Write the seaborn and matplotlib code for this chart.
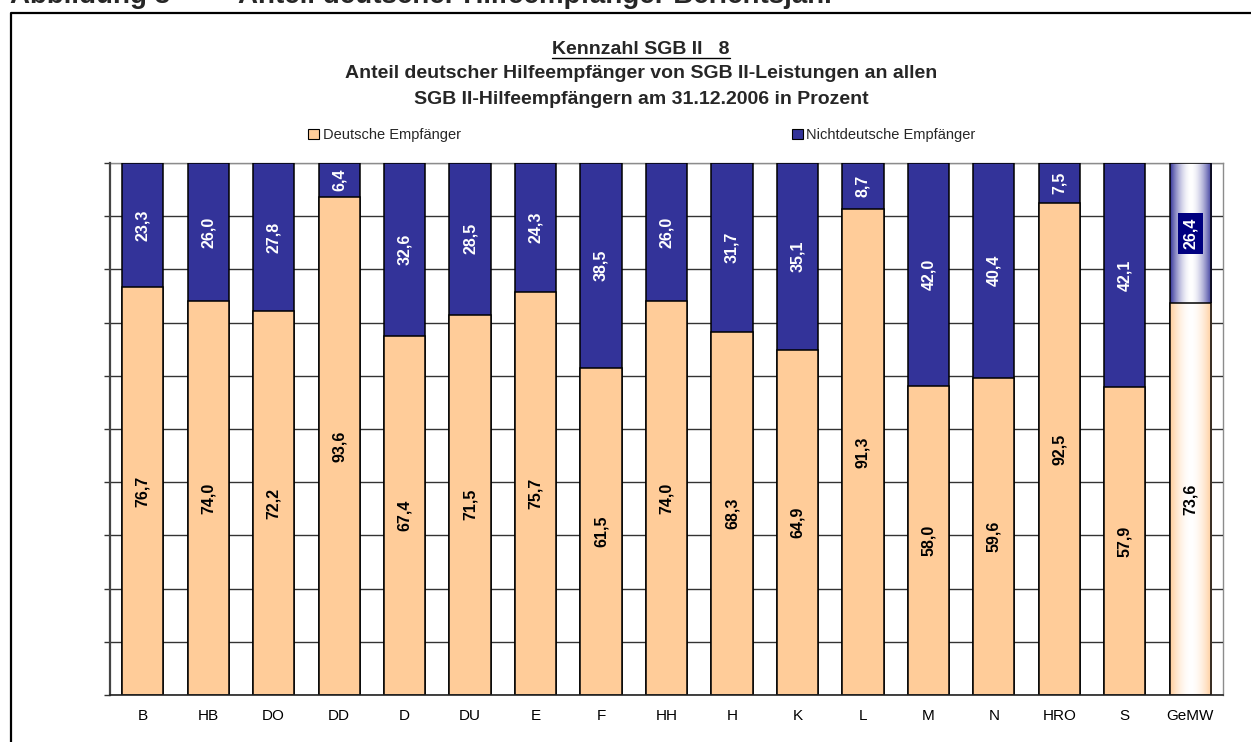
import numpy as np
import pandas as pd
import matplotlib
matplotlib.use("Agg")
import matplotlib.pyplot as plt
from matplotlib.patches import Patch
from matplotlib.lines import Line2D
import seaborn as sns

# ---------------- data ----------------
categories = ["B", "HB", "DO", "DD", "D", "DU", "E", "F", "HH", "H",
              "K", "L", "M", "N", "HRO", "S", "GeMW"]
deutsche = [76.7, 74.0, 72.2, 93.6, 67.4, 71.5, 75.7, 61.5, 74.0, 68.3,
            64.9, 91.3, 58.0, 59.6, 92.5, 57.9, 73.6]
nichtdeutsche = [23.3, 26.0, 27.8, 6.4, 32.6, 28.5, 24.3, 38.5, 26.0, 31.7,
                 35.1, 8.7, 42.0, 40.4, 7.5, 42.1, 26.4]
series_names = ["Deutsche Empfänger", "Nichtdeutsche Empfänger"]
y_ticks = list(range(0, 101, 10))

df = pd.DataFrame({"cat": categories, "deu": deutsche, "nde": nichtdeutsche})
df["total"] = df["deu"] + df["nde"]

ORANGE = "#FFCC99"
BLUE = "#333399"
NAVY = "#000080"

sns.set_style("white")
plt.rcParams["font.family"] = ["Liberation Sans", "DejaVu Sans"]

fig = plt.figure(figsize=(12.51, 7.42), dpi=100)
W, H = 1251, 742
ax = fig.add_axes([110 / W, 1 - 695 / H, (1223 - 110) / W, (695 - 163) / H])

bar_w = 0.63
# stacked: total (blue) first, deutsche (orange) on top
sns.barplot(data=df, x="cat", y="total", color=BLUE, saturation=1,
            width=bar_w, edgecolor="black", linewidth=1.1, ax=ax, zorder=2)
sns.barplot(data=df, x="cat", y="deu", color=ORANGE, saturation=1,
            width=bar_w, edgecolor="black", linewidth=1.1, ax=ax, zorder=2)

blue_bars = ax.containers[0]
orange_bars = ax.containers[1]

def fmt(v):
    return f"{v:.1f}".replace(".", ",")

n = len(categories)
for i in range(n):
    ob = orange_bars[i]
    bb = blue_bars[i]
    cx = ob.get_x() + ob.get_width() / 2
    ax.text(cx, ob.get_y() + ob.get_height() / 2, fmt(deutsche[i]),
            rotation=90, ha="center", va="center", fontsize=11.5,
            fontweight="bold", color="black", zorder=5)
    top = bb.get_y() + bb.get_height()
    bot = ob.get_y() + ob.get_height()
    last = (i == n - 1)
    ax.text(cx, (top + bot) / 2, fmt(nichtdeutsche[i]),
            rotation=90, ha="center", va="center", fontsize=11.5,
            fontweight="bold", color="white", zorder=5,
            bbox=dict(boxstyle="square,pad=0.3", fc=NAVY, ec="none") if last else None)

# gradient fill for the mean bar (GeMW)
def gradient_fill(patch, color, z):
    x0 = patch.get_x(); w = patch.get_width()
    y0 = patch.get_y(); h = patch.get_height()
    t = np.linspace(-1, 1, 200)
    prof = np.abs(t) ** 1.8
    c = np.array(matplotlib.colors.to_rgb(color))
    img = np.ones((2, 200, 3)) * (1 - prof)[None, :, None] + c[None, None, :] * prof[None, :, None]
    im = ax.imshow(img, extent=[x0, x0 + w, y0, y0 + h], aspect="auto",
                   zorder=z, interpolation="bilinear")
    im.set_clip_path(patch)
    patch.set_facecolor("none")
    patch.set_zorder(z + 0.05)

gradient_fill(blue_bars[n - 1], BLUE, 2.1)
gradient_fill(orange_bars[n - 1], ORANGE, 2.3)

# axes formatting
ax.set_xlim(-0.5, n - 0.5)
ax.set_ylim(0, 100)
ax.set_yticks(y_ticks)
ax.set_yticklabels([])
ax.set_xlabel("")
ax.set_ylabel("")
ax.set_axisbelow(True)
ax.yaxis.grid(True, color="#333333", linewidth=1.0)
ax.xaxis.grid(False)
ax.get_ygridlines()[-1].set_color("#8c8c8c")

ax.set_xticks(np.arange(-0.5, n, 1), minor=True)
ax.tick_params(axis="x", which="major", length=0, pad=10, labelsize=11, colors="black")
ax.tick_params(axis="x", which="minor", length=4, width=1, color="#444444", direction="out")
ax.tick_params(axis="y", which="major", left=True, length=4, width=1, color="#333333", direction="out")

for s in ["top", "right"]:
    ax.spines[s].set_visible(True)
    ax.spines[s].set_color("#8c8c8c")
    ax.spines[s].set_linewidth(1.0)
    ax.spines[s].set_zorder(0.5)
ax.spines["left"].set_color("#444444")
ax.spines["left"].set_linewidth(1.6)
ax.spines["bottom"].set_color("#222222")
ax.spines["bottom"].set_linewidth(1.2)

# legend
handles = [Patch(facecolor=ORANGE, edgecolor="black", linewidth=0.8),
           Patch(facecolor=BLUE, edgecolor="black", linewidth=0.8)]
fig.legend(handles, series_names, loc="center", bbox_to_anchor=(642 / W, 1 - 135 / H),
           ncol=2, frameon=False, fontsize=10.5, handlelength=0.75, handleheight=0.75,
           handletextpad=0.25, columnspacing=22.7, borderpad=0)

# titles
cx_fig = 641 / W
t1 = fig.text(cx_fig, 1 - 49 / H, "Kennzahl SGB II   8", ha="center", va="center",
              fontsize=14, fontweight="bold")
fig.text(cx_fig, 1 - 74 / H, "Anteil deutscher Hilfeempfänger von SGB II-Leistungen an allen",
         ha="center", va="center", fontsize=14, fontweight="bold")
fig.text(cx_fig, 1 - 99 / H, "SGB II-Hilfeempfängern am 31.12.2006 in Prozent",
         ha="center", va="center", fontsize=14, fontweight="bold")

# header (partly cut at top, as in the source page)
fig.text(10 / W, 1 - 3 / H, "Abbildung 8", ha="left", va="baseline",
         fontsize=20, fontweight="bold")
fig.text(238 / W, 1 - 3 / H, "Anteil deutscher Hilfeempfänger Berichtsjahr", ha="left",
         va="baseline", fontsize=20, fontweight="bold")

# frame box around the chart
fig.add_artist(Line2D([11 / W, 11 / W, 1.01], [-0.01, 1 - 12.5 / H, 1 - 12.5 / H],
                      transform=fig.transFigure, color="black", linewidth=1.6))

# underline for first title line
fig.canvas.draw()
bb = t1.get_window_extent(renderer=fig.canvas.get_renderer())
uy = bb.y0 - 0.5
fig.add_artist(Line2D([bb.x0 / W, bb.x1 / W], [uy / H, uy / H],
                      transform=fig.transFigure, color="black", linewidth=1.0))

fig.savefig("out.png", dpi=100)
